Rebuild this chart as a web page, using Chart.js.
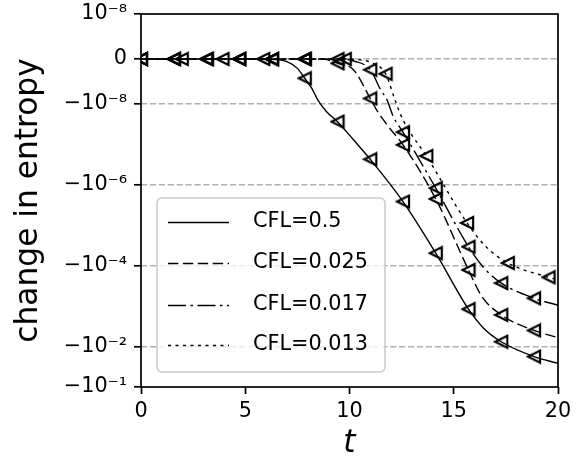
<!DOCTYPE html>
<html>
<head>
<meta charset="utf-8">
<script src="https://cdn.jsdelivr.net/npm/chart.js@4.4.1/dist/chart.umd.min.js"></script>
<style>
  html, body { margin: 0; padding: 0; background: #fff; }
  #chart { display: block; }
</style>
</head>
<body>
<canvas id="chart" width="587" height="458"></canvas>
<script>
// marker times (every pi/2 for the first three runs, ~1.955 for the last)
const markA = [0, 1.571, 3.142, 4.712, 6.283, 7.854, 9.425, 10.996, 12.566, 14.137, 15.708, 17.279, 18.850];
const markD = [0, 1.955, 3.91, 5.865, 7.82, 9.775, 11.73, 13.685, 15.64, 17.595, 19.55];

// CFL=0.5
const tSolid = [0, 1.571, 3.142, 4.712, 5.6, 6.283, 7.0, 7.5, 7.854, 8.2, 8.5, 8.9, 9.425, 10.2, 10.996, 12.566, 14.137, 15.708, 16.42, 17.279, 18.850, 20];
const ySolid = [0, 0, 0, 0, 0, -1e-10, -6e-10, -2.1e-9, -4.3e-9, -6.6e-9, -9.3e-9, -1.56e-8, -2.75e-8, -7.8e-8, -2.34e-7, -2.6e-6, -4.9e-5, -1.19e-3, -3.46e-3, -7.6e-3, -1.77e-2, -2.6e-2];

// CFL=0.025
const tDash = [0, 1.571, 3.142, 4.712, 6.283, 7.854, 8.8, 9.425, 10.2, 10.996, 11.3, 11.8, 12.566, 14.137, 15.708, 16.35, 17.279, 18.850, 20];
const yDash = [0, 0, 0, 0, 0, 0, -1e-10, -9.6e-10, -2.45e-9, -8.8e-9, -1.41e-8, -3.3e-8, -1.03e-7, -2.24e-6, -1.28e-4, -5.8e-4, -1.65e-3, -4.0e-3, -6.0e-3];

// CFL=0.017
const tDashDot = [0, 1.571, 3.142, 4.712, 6.283, 7.854, 9.425, 10.2, 10.996, 11.5, 11.8, 12.1, 12.566, 14.137, 15.708, 16.4, 17.279, 18.850, 20];
const yDashDot = [0, 0, 0, 0, 0, 0, 0, -4.5e-10, -2.4e-9, -6.9e-9, -9.1e-9, -2.07e-8, -5.0e-8, -1.21e-6, -3.4e-5, -1.06e-4, -2.7e-4, -6.4e-4, -9.5e-4];

// CFL=0.013
const tDot = [0, 1.955, 3.91, 5.865, 7.82, 9.775, 10.5, 11.1, 11.73, 12.18, 12.42, 12.74, 13.685, 15.64, 16.55, 17.595, 19.55, 20];
const yDot = [0, 0, 0, 0, 0, 0, -2e-10, -9e-10, -3.3e-9, -9.1e-9, -1.7e-8, -3.66e-8, -1.94e-7, -8.8e-6, -3.4e-5, -8.6e-5, -1.94e-4, -2.25e-4];

const labels = ['CFL=0.5', 'CFL=0.025', 'CFL=0.017', 'CFL=0.013'];
const xTicks = [0, 5, 10, 15, 20];
const yTicks = [1e-8, 0, -1e-8, -1e-6, -1e-4, -1e-2, -1e-1];

// symlog like matplotlib (linthresh 1e-8, linscale 1)
const LINTHRESH = 1e-8;
const LINSCALE = 1 / (1 - 0.1);
function symlog(v) {
    const a = Math.abs(v);
    if (a <= LINTHRESH) return v / LINTHRESH * LINSCALE;
    return Math.sign(v) * (LINSCALE + Math.log10(a / LINTHRESH));
}
function symexp(t) {
    const a = Math.abs(t);
    if (a <= LINSCALE) return t / LINSCALE * LINTHRESH;
    return Math.sign(t) * LINTHRESH * Math.pow(10, a - LINSCALE);
}

class SymlogScale extends Chart.Scale {
    determineDataLimits() {
        const { min, max } = this.getMinMax(true);
        this.min = this.options.min ?? min;
        this.max = this.options.max ?? max;
    }
    buildTicks() {
        return yTicks.map(value => ({ value }));
    }
    getLabelForValue(value) {
        return String(value);
    }
    configure() {
        super.configure();
        this._lo = symlog(this.min);
        this._hi = symlog(this.max);
    }
    getPixelForValue(value) {
        return this.getPixelForDecimal((symlog(value) - this._lo) / (this._hi - this._lo));
    }
    getValueForPixel(pixel) {
        return symexp(this._lo + this.getDecimalForPixel(pixel) * (this._hi - this._lo));
    }
}
SymlogScale.id = 'symlog';
SymlogScale.defaults = {};
Chart.register(SymlogScale);

const SUP = { '-': '\u207B', '0': '\u2070', '1': '\u00B9', '2': '\u00B2', '3': '\u00B3', '4': '\u2074', '5': '\u2075', '6': '\u2076', '7': '\u2077', '8': '\u2078', '9': '\u2079' };
function fmtTick(v) {
    if (v === 0) return '0';
    const e = String(Math.round(Math.log10(Math.abs(v))));
    return (v < 0 ? '\u2212' : '') + '10' + e.split('').map(c => SUP[c]).join('');
}

// open left-pointing triangle, like matplotlib '<'
function makeMarker() {
    const c = document.createElement('canvas');
    c.width = 16; c.height = 16;
    const g = c.getContext('2d');
    g.lineWidth = 2.2;
    g.strokeStyle = '#000';
    g.lineJoin = 'miter';
    g.beginPath();
    g.moveTo(2, 8);
    g.lineTo(14, 2);
    g.lineTo(14, 14);
    g.closePath();
    g.stroke();
    return c;
}
const marker = makeMarker();

const FS = 20.8;

function series(label, ts, ys, marks, dash) {
    return {
        label: label,
        data: ts.map((t, i) => ({ x: t, y: ys[i] })),
        borderColor: '#000',
        borderWidth: 1.4,
        borderDash: dash,
        cubicInterpolationMode: 'monotone',
        pointStyle: marker,
        pointRadius: (c) => marks.includes(ts[c.dataIndex]) ? 6 : 0,
        clip: 0,
        fill: false
    };
}

// legend box inside the axes, lower left
const legendBox = {
    id: 'legendBox',
    afterDatasetsDraw(chart) {
        const ctx = chart.ctx;
        ctx.save();
        ctx.beginPath();
        ctx.roundRect(157, 198, 228, 174, 5);
        ctx.fillStyle = 'rgba(255,255,255,0.8)';
        ctx.fill();
        ctx.lineWidth = 1.6;
        ctx.strokeStyle = '#cccccc';
        ctx.stroke();
        const rows = [222, 263, 305, 345];
        chart.data.datasets.forEach((ds, i) => {
            ctx.beginPath();
            ctx.setLineDash(ds.borderDash);
            ctx.lineWidth = 1.4;
            ctx.strokeStyle = '#000';
            ctx.moveTo(168, rows[i] + 0.5);
            ctx.lineTo(229, rows[i] + 0.5);
            ctx.stroke();
            ctx.setLineDash([]);
            ctx.fillStyle = '#000';
            ctx.font = FS + 'px "DejaVu Sans"';
            ctx.textBaseline = 'middle';
            ctx.textAlign = 'left';
            ctx.fillText(ds.label, 253, rows[i]);
        });
        ctx.restore();
    }
};

const frame = {
    id: 'frame',
    afterDraw(chart) {
        const a = chart.chartArea;
        const ctx = chart.ctx;
        ctx.save();
        ctx.lineWidth = 1.7;
        ctx.strokeStyle = '#000';
        ctx.strokeRect(a.left, a.top, a.right - a.left, a.bottom - a.top);
        ctx.restore();
    }
};

Chart.defaults.font.family = '"DejaVu Sans"';
Chart.defaults.color = '#000';

const myChart = new Chart(document.getElementById('chart'), {
    type: 'line',
    data: {
        datasets: [
            series(labels[0], tSolid, ySolid, markA, []),
            series(labels[1], tDash, yDash, markA, [10.4, 4.5]),
            series(labels[2], tDashDot, yDashDot, markA, [18, 4.5, 2.5, 4.5]),
            series(labels[3], tDot, yDot, markD, [3, 4.5])
        ]
    },
    options: {
        responsive: false,
        animation: false,
        devicePixelRatio: 1,
        events: [],
        layout: { padding: { left: 0, top: 14, right: 29, bottom: 0 } },
        plugins: { legend: { display: false }, tooltip: { enabled: false } },
        scales: {
            x: {
                type: 'linear',
                min: 0,
                max: 20,
                afterBuildTicks: (s) => { s.ticks = xTicks.map(v => ({ value: v })); },
                afterFit: (s) => { s.height = 71; s.paddingLeft = 0; s.paddingRight = 0; },
                ticks: { font: { size: FS }, padding: 5, maxRotation: 0 },
                grid: { drawOnChartArea: false, tickLength: 7, tickColor: '#000', tickWidth: 1.7 },
                border: { display: false },
                title: { display: true, text: 't', font: { size: 31.25, style: 'italic', lineHeight: 0.9 }, padding: { top: 0, bottom: 0 } }
            },
            y: {
                type: 'symlog',
                min: -1e-1,
                max: 1e-8,
                afterFit: (s) => { s.width = 141; s.paddingTop = 0; s.paddingBottom = 0; },
                ticks: { font: { size: FS }, padding: 7, callback: (v) => fmtTick(v) },
                grid: {
                    color: (c) => (c.index === 0 || c.index === yTicks.length - 1) ? 'rgba(0,0,0,0)' : '#b0b0b0',
                    lineWidth: 1.6,
                    tickLength: 7,
                    tickColor: '#000',
                    tickWidth: 1.7
                },
                border: { display: false, dash: [6.2, 2.7] },
                title: { display: true, text: 'change in entropy', font: { size: 31.25 }, padding: { top: 10, bottom: 0 } }
            }
        }
    },
    plugins: [legendBox, frame]
});
</script>
</body>
</html>
